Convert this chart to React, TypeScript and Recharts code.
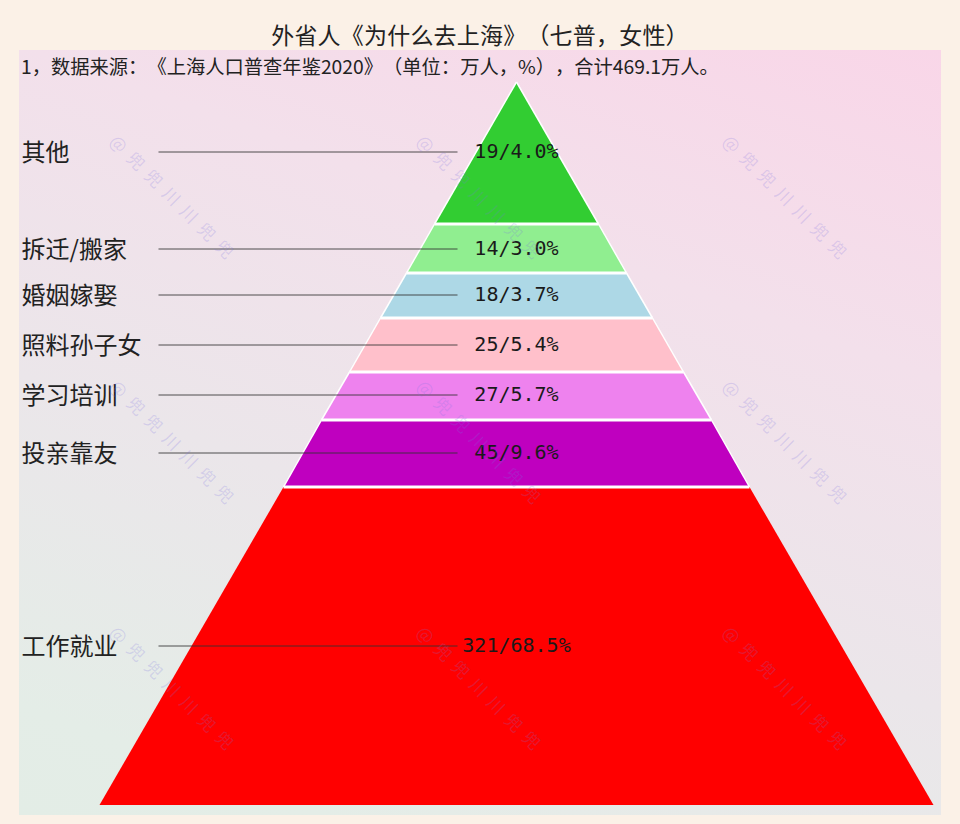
import { Area, ComposedChart, ReferenceDot, ReferenceLine, XAxis, YAxis } from 'recharts'

const names = ['其他', '拆迁/搬家', '婚姻嫁娶', '照料孙子女', '学习培训', '投亲靠友', '工作就业']
const people = [19, 14, 18, 25, 27, 45, 321]
const shares = ['4.0', '3.0', '3.7', '5.4', '5.7', '9.6', '68.5']
const colors = ['#32cd32', '#90ee90', '#add8e6', '#ffc0cb', '#ee82ee', '#bf00bf', '#ff0000']

// band edges: depth below the apex and half width at that depth
const edgeDepth = [0, 142, 191, 236, 290, 338, 405, 723]
const edgeHalf = [0, 82, 110, 136, 167, 195, 233, 417]
// depth of each leader line / label
const rowDepth = [70, 167, 213, 263, 313, 371, 564]

const leaderFrom = -358
const leaderTo = -59
const nameX = -495

const cjk = '"Noto Sans CJK SC", sans-serif'
const mono = '"DejaVu Sans Mono", "Noto Sans CJK SC", monospace'

const marks = [
  [175, 199], [482, 199], [788, 199],
  [175, 444], [482, 444], [788, 444],
  [175, 690], [482, 690], [788, 690],
]

function bandData(i: number) {
  return [
    { depth: edgeDepth[i], span: [-edgeHalf[i], edgeHalf[i]] },
    { depth: edgeDepth[i + 1], span: [-edgeHalf[i + 1], edgeHalf[i + 1]] },
  ]
}

export default function App() {
  return (
    <div style={{ position: 'absolute', left: 0, top: 0, width: 960, height: 824, overflow: 'hidden', background: '#fbf1e7' }}>
      <div
        style={{
          position: 'absolute',
          left: 19,
          top: 50,
          width: 922,
          height: 765,
          background: 'linear-gradient(200deg, #f9d6e8 0%, #f3e0eb 30%, #ebe6ea 60%, #e4ede7 90%, #e3ede6 100%)',
        }}
      />
      <div style={{ position: 'absolute', left: 0, top: 19, width: 960, textAlign: 'center', fontFamily: cjk, fontSize: 23, lineHeight: '30px', color: '#222', letterSpacing: 0.2, textSpacingTrim: 'space-all' } as any}>
        外省人《为什么去上海》（七普，女性）
      </div>
      <div style={{ position: 'absolute', left: 21, top: 52, fontFamily: cjk, fontSize: 19.3, lineHeight: '28px', color: '#222', whiteSpace: 'nowrap', textSpacingTrim: 'space-all' } as any}>
        1，数据来源：《上海人口普查年鉴2020》（单位：万人，%），合计469.1万人。
      </div>
      <div style={{ position: 'absolute', left: 0, top: 0 }}>
        <ComposedChart width={960} height={824} layout="vertical" margin={{ top: 0, right: 0, bottom: 0, left: 0 }}>
          <XAxis type="number" hide domain={[-516.5, 443.5]} allowDataOverflow />
          <YAxis type="number" dataKey="depth" hide domain={[-82, 742]} allowDataOverflow />
          {names.map((n, i) => (
            <Area
              key={n}
              data={bandData(i)}
              dataKey="span"
              type="linear"
              fill={colors[i]}
              fillOpacity={1}
              stroke={i === names.length - 1 ? 'none' : '#fff'}
              strokeWidth={1.5}
              dot={false}
              activeDot={false}
              isAnimationActive={false}
            />
          ))}
          {edgeDepth.slice(1, -1).map((d, i) => (
            <ReferenceLine
              key={d}
              segment={[{ x: -edgeHalf[i + 1], y: d }, { x: edgeHalf[i + 1], y: d }]}
              stroke="#fff"
              strokeWidth={3}
            />
          ))}
          {names.map((n, i) => (
            <ReferenceLine
              key={n}
              segment={[{ x: leaderFrom, y: rowDepth[i] }, { x: leaderTo, y: rowDepth[i] }]}
              stroke="#333"
              strokeOpacity={0.85}
              strokeWidth={1}
            />
          ))}
          {names.map((n, i) => (
            <ReferenceDot
              key={n}
              x={nameX}
              y={rowDepth[i]}
              r={0}
              stroke="none"
              fill="none"
              label={{ value: n, position: 'right', offset: 0, fill: '#222', fontSize: 24, fontFamily: cjk }}
            />
          ))}
          {names.map((n, i) => (
            <ReferenceDot
              key={n}
              x={0}
              y={rowDepth[i] - 1}
              r={0}
              stroke="none"
              fill="none"
              label={{ value: `${people[i]}/${shares[i]}%`, position: 'center', fill: '#1a1a1a', fontSize: 20, fontFamily: mono }}
            />
          ))}
        </ComposedChart>
      </div>
      {marks.map(([x, y]) => (
        <div
          key={`${x}-${y}`}
          style={{
            position: 'absolute',
            left: x - 100,
            top: y - 12,
            width: 200,
            textAlign: 'center',
            transform: 'rotate(45deg)',
            fontFamily: cjk,
            fontSize: 17,
            lineHeight: '24px',
            letterSpacing: 8,
            color: 'rgba(125,115,225,0.22)',
            whiteSpace: 'nowrap',
            pointerEvents: 'none',
          }}
        >
          @兜兜川川兜兜
        </div>
      ))}
    </div>
  )
}
